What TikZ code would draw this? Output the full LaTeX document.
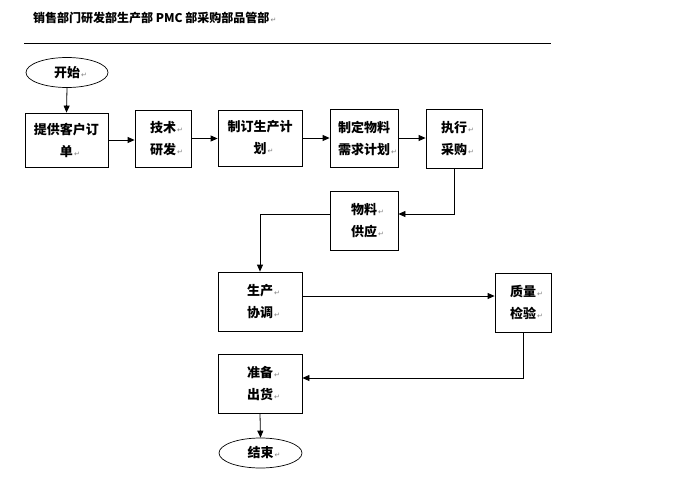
\documentclass[tikz,border=0pt]{standalone}
\usepackage{fontspec}
\newfontfamily\cjk{Noto Sans CJK SC}
\newfontfamily\marksym{DejaVu Sans}
\usetikzlibrary{arrows.meta,shapes.geometric}
\newcommand\retmark{\rlap{\marksym\mdseries\fontsize{7}{7}\selectfont\color{gray}\,↵}}
\tikzset{
  box/.style={draw, line width=0.8pt, align=center, inner sep=0pt,
    font=\cjk\bfseries\fontsize{13}{22}\selectfont},
  oval/.style={draw, ellipse, line width=0.7pt, inner sep=0pt,
    font=\cjk\bfseries\fontsize{13}{22}\selectfont},
  arr/.style={line width=0.8pt, -{Triangle[length=7pt,width=6pt]}},
}
\begin{document}
\begin{tikzpicture}[x=1pt,y=-1pt]
\useasboundingbox (0,0) rectangle (689,480);
\node[anchor=west, font=\cjk\bfseries\fontsize{12}{14}\selectfont, inner sep=0pt] (title) at (33,18) {销售部门研发部生产部 PMC 部采购部品管部\retmark};
\coordinate (hl) at (24,43);
\coordinate (hr) at (551,43);
\draw[line width=0.8pt] (hl) -- (hr);

\node[oval, minimum width=82pt, minimum height=30pt] (start) at (67,72.5) {开始\retmark};
\node[box, minimum width=83pt, minimum height=54pt] (b1) at (66.5,140) {提供客户订\\单\retmark};
\node[box, minimum width=56pt, minimum height=57pt] (b2) at (163,138.5) {技术\retmark\\研发\retmark};
\node[box, minimum width=84pt, minimum height=56pt] (b3) at (260,138) {制订生产计\\划\retmark};
\node[box, minimum width=68pt, minimum height=58pt] (b4) at (364,138) {制定物料\\需求计划\retmark};
\node[box, minimum width=56pt, minimum height=59pt] (b5) at (454,138.5) {执行\retmark\\采购\retmark};
\node[box, minimum width=68pt, minimum height=59pt] (b6) at (364,220.5) {物料\retmark\\供应\retmark};
\node[box, minimum width=84pt, minimum height=59pt] (b7) at (260,301.5) {生产\retmark\\协调\retmark};
\node[box, minimum width=56pt, minimum height=59pt] (b8) at (523,302.5) {质量\retmark\\检验\retmark};
\node[box, minimum width=84pt, minimum height=59pt] (b9) at (260,383.5) {准备\retmark\\出货\retmark};
\node[oval, minimum width=83pt, minimum height=30pt] (end) at (260.5,453) {结束\retmark};

\draw[arr] (start.south) -- (b1.north);
\draw[arr] (b1.east) -- (b1.east -| b2.west);
\draw[arr] (b2.east) -- (b2.east -| b3.west);
\draw[arr] (b3.east) -- (b3.east -| b4.west);
\draw[arr] (b4.east) -- (b4.east -| b5.west);
\draw[arr] (b5.south) |- ([yshift=6.5pt]b6.east);
\draw[arr] ([yshift=6.5pt]b6.west) -| (b7.north);
\draw[arr] ([yshift=5.5pt]b7.east) -- ([yshift=5.5pt]b7.east -| b8.west);
\draw[arr] (b8.south) |- ([yshift=5.5pt]b9.east);
\draw[arr] (b9.south) -- (end.north);
\end{tikzpicture}
\end{document}
